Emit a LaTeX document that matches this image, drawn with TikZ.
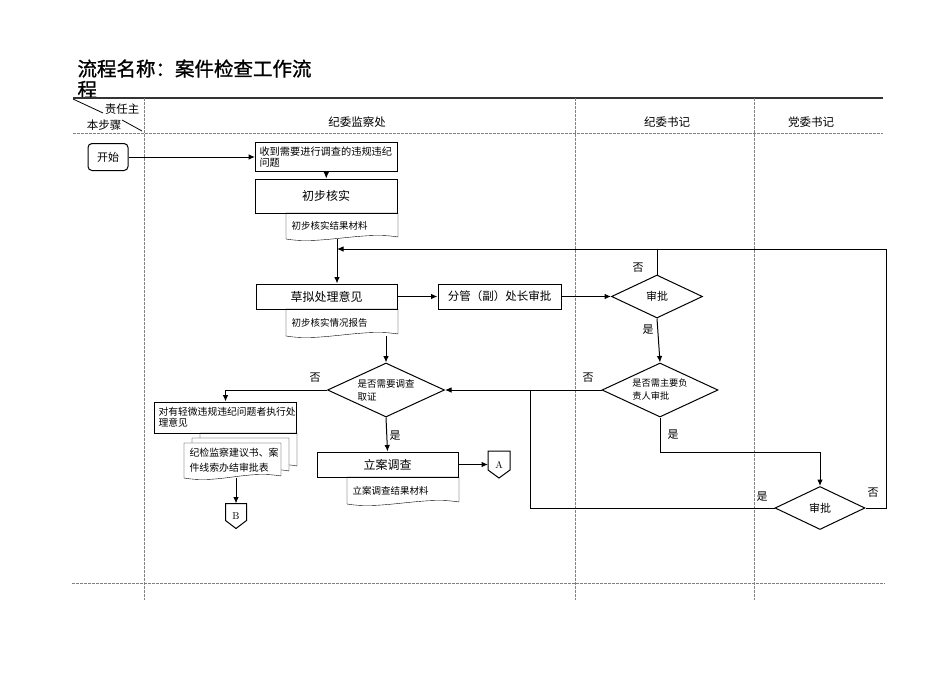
\documentclass[tikz,border=0pt]{standalone}
\usepackage{fontspec}
\newfontfamily\cjk{Noto Sans CJK SC}
\newfontfamily\cjkhead[FakeBold=1.1]{Noto Sans CJK SC}
\usetikzlibrary{shapes.geometric,backgrounds,arrows.meta}

\begin{document}
\begin{tikzpicture}[>={Latex[length=6.5pt,width=5.5pt]},x=1pt,y=-1pt,line width=1pt,
  box/.style={rectangle,draw,inner sep=0pt,font=\cjk\fontsize{12}{14}\selectfont},
  note/.style={rectangle,draw,anchor=west,align=left,inner xsep=4pt,inner ysep=0pt,font=\cjk\fontsize{10.2}{11.5}\selectfont},
  doc/.style={rectangle,anchor=north west,align=left,inner xsep=5pt,inner ysep=0pt,font=\cjk\fontsize{9.5}{11}\selectfont},
  dec/.style={diamond,draw,inner sep=0pt,font=\cjk\fontsize{11}{13}\selectfont},
  tag/.style={inner sep=1pt,font=\cjk\fontsize{11}{13}\selectfont},
  lane/.style={inner sep=1pt,font=\cjk\fontsize{11.5}{13}\selectfont},
  page/.style={rectangle,inner sep=0pt,minimum width=21pt,minimum height=26pt,font=\fontsize{10}{12}\selectfont},
  sep/.style={gray,line width=0.7pt,dash pattern=on 2.5pt off 1.5pt}]
\useasboundingbox (0,0) rectangle (950,672);

\node(title) at (77,59)[anchor=north west,align=left,inner sep=0pt,font=\cjkhead\fontsize{19.5}{21}\selectfont] {流程名称：案件检查工作流\\程};

\draw[line width=1.6pt,black!80] (73,98) -- (883,98);
\draw[sep] (73,133) -- (883,133);
\draw[sep] (72,583) -- (885,583);
\foreach \x in {144,575,754} \draw[sep] (\x,98) -- (\x,600);
\draw[line width=0.8pt] (73,99) -- (103,113);
\draw[line width=0.8pt] (122,120) -- (142,131);

\node(role1) at (122,109)[lane] {责任主};
\node(role2) at (104,125)[lane] {本步骤};
\node(lane1) at (357,122)[lane] {纪委监察处};
\node(lane2) at (667,122)[lane] {纪委书记};
\node(lane3) at (811,122)[lane] {党委书记};

\node(start) at (108,157)[box,rounded corners=4pt,minimum width=40pt,minimum height=27pt,font=\cjk\fontsize{11}{13}\selectfont] {开始};
\node(recv) at (255,157)[note,text width=134pt,minimum height=29pt] {收到需要进行调查的违规违纪\\问题};
\node(verify) at (326,196)[box,minimum width=142pt,minimum height=34pt] {初步核实};
\node(verdoc) at (286,213)[doc,text width=101pt,minimum height=25pt] {初步核实结果材料};
\node(draft) at (326.5,296.5)[box,minimum width=141pt,minimum height=25pt] {草拟处理意见};
\node(draftdoc) at (286,309)[doc,text width=101pt,minimum height=26pt] {初步核实情况报告};
\node(chief) at (499.5,296.5)[box,minimum width=123pt,minimum height=25pt,font=\cjk\fontsize{11.5}{13}\selectfont] {分管（副）处长审批};
\node(apv) at (657,296.5)[dec,minimum width=91pt,minimum height=43pt] {审批};
\node(needinv) at (386,390)[dec,aspect=2.2,minimum width=117pt,minimum height=54pt,align=left,font=\cjk\fontsize{9.5}{13}\selectfont] {是否需要调查\\取证};
\node(needlead) at (660,390)[dec,aspect=2.2,minimum width=116pt,minimum height=54pt,align=left,font=\cjk\fontsize{9.2}{13}\selectfont] {是否需主要负\\责人审批};
\node(partyapv) at (820,508)[dec,minimum width=90pt,minimum height=43pt] {审批};
\node(minor) at (154,417.5)[note,text width=134pt,minimum height=31pt,font=\cjk\fontsize{9.8}{11.5}\selectfont] {对有轻微违规违纪问题者执行处\\理意见};
\node(docs) at (184,443)[doc,text width=86pt,minimum height=34pt,font=\cjk\fontsize{9.9}{15}\selectfont] {纪检监察建议书、案\\件线索办结审批表};
\node(case) at (387.5,464.5)[box,minimum width=141pt,minimum height=25pt] {立案调查};
\node(casedoc) at (347,477)[doc,text width=101pt,minimum height=26pt] {立案调查结果材料};
\node(conA) at (499,464.5)[page] {A};
\node(conB) at (236,516)[page,minimum width=20pt,minimum height=24pt] {B};

\begin{scope}[on background layer]
\foreach \dx/\dy/\dz in {16/10/12,8/5/7}
  \draw[fill=white] ([xshift=\dx pt,yshift=\dy pt]docs.south west) -- ([xshift=\dx pt,yshift=\dy pt]docs.north west) -- ([xshift=\dx pt,yshift=\dy pt]docs.north east) -- ([xshift=\dx pt,yshift=\dz pt]docs.south east) .. controls +(-30,-6) and +(30,6) .. ([xshift=\dx pt,yshift=\dy pt]docs.south west);
\foreach \d in {verdoc,draftdoc,casedoc,docs}
  \draw[fill=white] (\d.south west) -- (\d.north west) -- (\d.north east) -- ([yshift=2pt]\d.south east) .. controls +(-35,-6) and +(35,6) .. (\d.south west);
\end{scope}
\foreach \p in {conA,conB}
  \draw (\p.north west) -- (\p.north east) -- ([yshift=8pt]\p.south east) -- (\p.south) -- ([yshift=8pt]\p.south west) -- cycle;

\coordinate(join) at (337,249);
\coordinate(ne) at (886,249);
\coordinate(mid) at (530,390);

\draw[->] (start) -- (recv);
\draw[->] (recv) -- (verify);
\draw (verdoc.south -| join) -- (join);
\draw[->] (join) -- (join |- draft.north);
\draw[->] (draft) -- (chief);
\draw[->] (chief) -- (apv);
\draw[->] (apv.north) |- (join);
\draw (partyapv.east) -| (ne) -- (apv.north |- ne);
\draw[->] (apv.south) -- (needlead.north);
\draw[->] (needlead.west) -- (needinv.east);
\draw (partyapv.west) -| (mid);
\draw[->] (needlead.south) -- ++(0,35) -| (partyapv.north);
\draw[->] (draftdoc.south -| needinv.north) -- (needinv.north);
\draw[->] (needinv.west) -| (minor.north);
\draw[->] (needinv.south) -- (case.north);
\draw[->] (case) -- (conA);
\draw[->] (docs.south -| conB) -- (conB);

\node(no1) at (638,268)[tag] {否};
\node(yes1) at (648,330)[tag] {是};
\node(no2) at (588,378)[tag] {否};
\node(yes2) at (673,435)[tag] {是};
\node(yes3) at (762,497)[tag] {是};
\node(no3) at (873,493)[tag] {否};
\node(no4) at (315,378)[tag] {否};
\node(yes4) at (395,436)[tag] {是};

\end{tikzpicture}
\end{document}
